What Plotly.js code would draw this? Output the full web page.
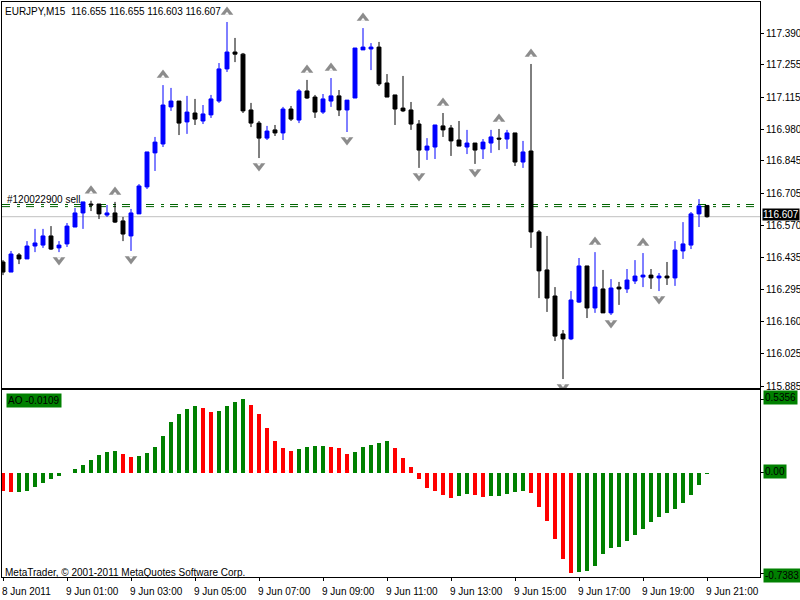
<!DOCTYPE html>
<html>
<head>
<meta charset="utf-8">
<script src="https://cdn.plot.ly/plotly-3.0.1.min.js"></script>
<style>html,body{margin:0;padding:0;background:#fff}</style>
</head>
<body>
<div id="chart" style="width:800px;height:600px"></div>
<script>
// ---------- data ----------
const headerText = 'EURJPY,M15\u00a0\u00a0116.655 116.655 116.603 116.607';
const timeLabels = ['8 Jun 2011','9 Jun 01:00','9 Jun 03:00','9 Jun 05:00','9 Jun 07:00','9 Jun 09:00',
                    '9 Jun 11:00','9 Jun 13:00','9 Jun 15:00','9 Jun 17:00','9 Jun 19:00','9 Jun 21:00'];
const timeLabelIdx = [0,8,16,24,32,40,48,56,64,72,80,88];

const open = [
116.414,116.371,116.444,116.427,116.482,116.486,116.525,116.474,116.491,116.563,
116.623,116.661,116.661,116.614,116.623,116.589,116.525,116.619,116.734,116.879,
116.917,117.075,117.100,117.011,117.049,117.015,117.041,117.100,117.237,117.309,
117.300,117.062,117.006,116.942,116.977,116.964,117.066,117.019,117.143,117.117,
117.053,117.100,117.122,117.062,117.113,117.318,117.322,117.330,117.177,117.126,
117.070,117.062,117.002,116.891,116.904,116.994,116.985,116.934,116.904,116.921,
116.896,116.921,116.942,116.938,116.964,116.840,116.887,116.542,116.380,116.269,
116.107,116.086,116.243,116.397,116.218,116.299,116.197,116.307,116.299,116.333,
116.350,116.358,116.346,116.354,116.346,116.461,116.486,116.619,116.655];
const high = [
116.422,116.461,116.452,116.503,116.555,116.555,116.567,116.503,116.580,116.644,
116.670,116.675,116.661,116.657,116.670,116.606,116.640,116.746,116.883,116.947,
117.168,117.156,117.100,117.122,117.109,117.083,117.126,117.262,117.437,117.369,
117.305,117.092,117.015,116.994,116.998,117.075,117.079,117.151,117.190,117.126,
117.130,117.198,117.147,117.104,117.326,117.411,117.347,117.352,117.215,117.126,
117.207,117.096,117.019,116.942,116.998,117.049,116.998,117.015,116.977,116.921,
116.938,116.977,116.981,116.977,116.964,116.930,117.258,116.550,116.525,116.307,
116.124,116.290,116.431,116.397,116.456,116.380,116.341,116.329,116.384,116.422,
116.452,116.384,116.367,116.414,116.503,116.584,116.627,116.682,116.655];
const low = [
116.358,116.371,116.405,116.427,116.456,116.474,116.465,116.456,116.478,116.563,
116.555,116.631,116.597,116.606,116.580,116.503,116.461,116.619,116.725,116.802,
116.904,117.058,116.955,116.960,116.998,117.002,117.028,117.092,117.224,117.266,
117.049,116.989,116.857,116.934,116.951,116.934,117.015,117.006,117.109,117.028,
117.045,117.075,117.036,116.968,117.113,117.318,117.232,117.164,117.117,116.998,
117.053,116.977,116.815,116.849,116.853,116.947,116.866,116.908,116.874,116.832,
116.853,116.879,116.891,116.896,116.823,116.815,116.474,116.260,116.201,116.077,
115.915,116.081,116.239,116.175,116.197,116.197,116.188,116.231,116.282,116.320,
116.307,116.299,116.290,116.316,116.312,116.427,116.469,116.563,116.603];
const close = [
116.371,116.448,116.427,116.482,116.495,116.525,116.469,116.486,116.567,116.623,
116.670,116.657,116.619,116.623,116.584,116.533,116.623,116.738,116.883,116.925,
117.083,117.100,117.006,117.053,117.023,117.045,117.109,117.237,117.309,117.300,
117.058,117.006,116.942,116.972,116.964,117.066,117.023,117.143,117.113,117.053,
117.109,117.122,117.062,117.104,117.326,117.330,117.330,117.173,117.117,117.066,
117.058,117.002,116.891,116.908,116.998,116.977,116.930,116.908,116.921,116.891,
116.925,116.947,116.938,116.964,116.840,116.883,116.542,116.376,116.260,116.098,
116.086,116.252,116.397,116.218,116.307,116.197,116.303,116.299,116.337,116.354,
116.358,116.346,116.354,116.346,116.465,116.491,116.619,116.653,116.607];

const aoValues = [
-0.135,-0.145,-0.144,-0.135,-0.108,-0.079,-0.049,-0.027,-0.007,0.029,
0.054,0.090,0.127,0.147,0.154,0.132,0.110,0.118,0.140,0.184,
0.267,0.368,0.426,0.463,0.485,0.471,0.441,0.449,0.487,0.516,
0.5356,0.493,0.426,0.324,0.228,0.176,0.154,0.169,0.184,0.191,
0.193,0.190,0.176,0.132,0.147,0.184,0.199,0.213,0.228,0.176,
0.103,0.037,-0.051,-0.110,-0.132,-0.162,-0.184,-0.169,-0.154,-0.162,
-0.176,-0.175,-0.169,-0.154,-0.140,-0.139,-0.147,-0.250,-0.353,-0.485,
-0.632,-0.7383,-0.728,-0.722,-0.684,-0.596,-0.551,-0.544,-0.500,-0.456,
-0.412,-0.360,-0.324,-0.294,-0.265,-0.221,-0.162,-0.088,-0.0109];

const upFractalIdx = [11,14,20,28,38,41,45,55,62,66,74,80];
const downFractalIdx = [7,16,32,43,52,59,70,76,82];

const priceTicks = [117.390,117.255,117.115,116.980,116.845,116.705,116.570,116.435,116.295,116.160,116.025,115.885];
const bidPrice = 116.607;
const orderPrices = [116.659,116.650];
const orderLabel = '#120022900 sell';
const aoTicks = [0.5356, 0, -0.7383];
const aoTickText = ['0.5356','0.00','-0.7383'];
const aoLabel = 'AO -0.0109';
const copyright = 'MetaTrader, \u00a9 2001-2011 MetaQuotes Software Corp.';

// ---------- layout geometry (pixels) ----------
const W = 800, H = 600;
const mL = 2, mR = 40, mT = 2, mB = 23;
const plotW = W - mL - mR, plotH = H - mT - mB;
const mainTopPx = 2, mainBotPx = 388, aoTopPx = 390, aoBotPx = 577;
const yRange = [115.8768, 117.5222];
const aoRange = [-0.765, 0.604];
const xRange = [-0.125, 94.625];
const pxPerPrice = (mainBotPx - mainTopPx) / (yRange[1] - yRange[0]);
const px2py = y => (H - mB - y) / plotH;
const px2px = x => (x - mL) / plotW;

const FONT = 'Liberation Sans, Arial, sans-serif';
const idx = open.map((_, i) => i);

const traces = [];
traces.push({
  type: 'candlestick', x: idx, open: open, high: high, low: low, close: close,
  xaxis: 'x', yaxis: 'y',
  increasing: {line: {color: '#0000ff', width: 1}, fillcolor: '#0000ff'},
  decreasing: {line: {color: '#000000', width: 1}, fillcolor: '#000000'},
  whiskerwidth: 0, hoverinfo: 'skip'
});

// fractal arrows (arrowhead = gray triangle with a white notch)
const upX = upFractalIdx, upY = upFractalIdx.map(i => high[i] + 10 / pxPerPrice);
const dnX = downFractalIdx, dnY = downFractalIdx.map(i => low[i] - 8 / pxPerPrice);
traces.push({type:'scatter', mode:'markers', x: upX, y: upY, xaxis:'x', yaxis:'y',
  marker:{symbol:'triangle-up', size:11, color:'#8c8c8c', line:{width:0}}, hoverinfo:'skip'});
traces.push({type:'scatter', mode:'markers', x: upX, y: upY.map(v => v - 1.75 / pxPerPrice), xaxis:'x', yaxis:'y',
  marker:{symbol:'triangle-up', size:4, color:'#ffffff', line:{width:0}}, hoverinfo:'skip'});
traces.push({type:'scatter', mode:'markers', x: dnX, y: dnY, xaxis:'x', yaxis:'y',
  marker:{symbol:'triangle-down', size:11, color:'#8c8c8c', line:{width:0}}, hoverinfo:'skip'});
traces.push({type:'scatter', mode:'markers', x: dnX, y: dnY.map(v => v + 1.75 / pxPerPrice), xaxis:'x', yaxis:'y',
  marker:{symbol:'triangle-down', size:4, color:'#ffffff', line:{width:0}}, hoverinfo:'skip'});

// Awesome Oscillator
const aoColors = aoValues.map((v, i) => (i > 0 && v > aoValues[i - 1]) ? '#008000' : '#ff0000');
traces.push({type:'bar', x: idx, y: aoValues, xaxis:'x2', yaxis:'y2', width: 0.4,
  marker:{color: aoColors, line:{width:0}}, hoverinfo:'skip'});

const shapes = [
  {type:'line', xref:'paper', yref:'y', x0:0, x1:1, y0:bidPrice, y1:bidPrice,
   line:{color:'#c0c0c0', width:1}, layer:'below'}
];
orderPrices.forEach(p => shapes.push({type:'line', xref:'paper', yref:'y', x0:0, x1:1, y0:p, y1:p,
   line:{color:'#006400', width:1, dash:'8px,7px,3px,6px'}, layer:'below'}));

const annotations = [];
const txt = (text, xpx, ypx, extra) => Object.assign({
  text: text, xref:'paper', yref:'paper', x: px2px(xpx), y: px2py(ypx),
  xanchor:'left', yanchor:'middle', showarrow:false,
  font:{family: FONT, size: 10, color:'#000'}
}, extra || {});
annotations.push(txt(headerText, 3, 11));
annotations.push(txt(orderLabel, 5, 199));
annotations.push(txt(copyright, 3, 572));
annotations.push(txt(aoLabel, 6, 400, {bgcolor:'#008000', borderpad:1}));
annotations.push({text: bidPrice.toFixed(3), xref:'paper', yref:'y', x:1, y: bidPrice,
  xanchor:'left', yanchor:'middle', showarrow:false, xshift: 2, yshift: 2, bgcolor:'#000000', borderpad:0,
  font:{family: FONT, size: 10, color:'#ffffff'}});
const aoLabelPx = [397, 471, 575];
aoTickText.forEach((t, k) => annotations.push(txt(t, 763, aoLabelPx[k], {bgcolor:'#008000', borderpad:1})));
timeLabels.forEach((t, k) => annotations.push({text: t, xref:'x2', yref:'paper', x: timeLabelIdx[k],
  y: px2py(591), xanchor:'left', yanchor:'middle', showarrow:false, xshift:-3,
  font:{family: FONT, size: 10, color:'#000'}}));

const axLine = {showline:true, mirror:true, linecolor:'#000', linewidth:1, zeroline:false, showgrid:false};
const layout = {
  width: W, height: H, margin:{l:mL, r:mR, t:mT, b:mB, pad:0},
  paper_bgcolor:'#ffffff', plot_bgcolor:'#ffffff', showlegend:false,
  font:{family: FONT, size:10, color:'#000'},
  xaxis: Object.assign({}, axLine, {range:xRange, domain:[0,1], anchor:'y', showticklabels:false, ticks:'',
    rangeslider:{visible:false}, fixedrange:true}),
  yaxis: Object.assign({}, axLine, {range:yRange, domain:[px2py(mainBotPx), 1], side:'right', anchor:'x',
    tickmode:'array', tickvals: priceTicks, ticktext: priceTicks.map(v => v.toFixed(3)),
    ticks:'outside', ticklen:3, tickcolor:'#000', tickfont:{family: FONT, size:10, color:'#000'}}),
  xaxis2: Object.assign({}, axLine, {range:xRange, domain:[0,1], anchor:'y2', showticklabels:false,
    tickmode:'array', tickvals: timeLabelIdx, ticks:'outside', ticklen:3, tickcolor:'#000'}),
  yaxis2: Object.assign({}, axLine, {range:aoRange, domain:[0, px2py(aoTopPx)], side:'right', anchor:'x2',
    tickmode:'array', tickvals: aoTicks, showticklabels:false, ticks:'outside', ticklen:3, tickcolor:'#000'}),
  shapes: shapes, annotations: annotations, bargap: 0
};
Plotly.newPlot('chart', traces, layout, {displayModeBar:false, staticPlot:true});
</script>
</body>
</html>
